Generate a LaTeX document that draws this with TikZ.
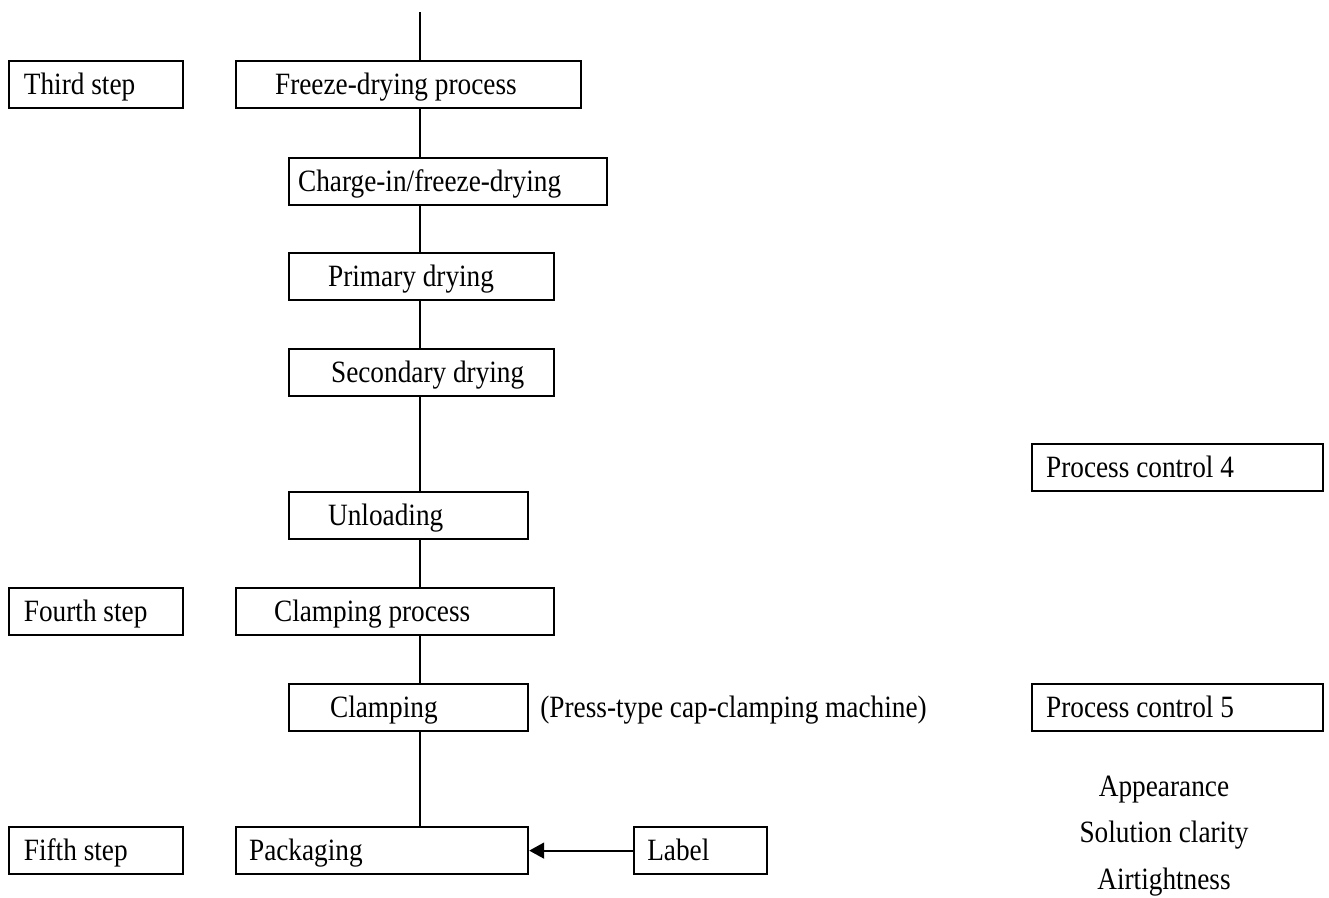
\documentclass[tikz,border=0pt]{standalone}
\usepackage{fontspec}
\setmainfont{Liberation Serif}[FakeStretch=0.88]
\usetikzlibrary{positioning, arrows.meta}

\begin{document}
\begin{tikzpicture}[x=1pt, y=-1pt,
    stage/.style={draw, rectangle, line width=2.2pt, align=left, inner ysep=0pt,
        minimum height=47pt, text height=20.5pt, text depth=0pt,
        font=\fontsize{31}{36}\selectfont,
        execute at begin node={\spaceskip=0pt\xspaceskip=0pt}},
    plain/.style={inner sep=0pt, text height=20.5pt, text depth=0pt,
        font=\fontsize{31}{36}\selectfont},
    link/.style={line width=1.6pt}]
    \useasboundingbox (0,0) rectangle (1329,897);

    % Third step
    \node[stage, anchor=north west, text width=267pt, inner xsep=39pt] (freeze) at (235,60) {Freeze-drying process};
    \node[stage, text width=144pt, inner xsep=15pt, left=51pt of freeze] (third) {Third step};
    \node[stage, anchor=north west, text width=300pt, inner xsep=9pt] (charge) at (288,157) {Charge-in/freeze-drying};
    \node[stage, anchor=north west, text width=187pt, inner xsep=39pt] (primary) at (288,252) {Primary drying};
    \node[stage, anchor=north west, text width=181pt, inner xsep=42pt] (secondary) at (288,348) {\mbox{Secondary drying}};
    \node[stage, anchor=north west, text width=161pt, inner xsep=39pt] (unload) at (288,491) {Unloading};

    % Fourth step
    \node[stage, anchor=north west, text width=242pt, inner xsep=38pt] (clampproc) at (235,587) {Clamping process};
    \node[stage, text width=144pt, inner xsep=15pt, left=51pt of clampproc] (fourth) {Fourth step};
    \node[stage, anchor=north west, text width=157pt, inner xsep=41pt] (clamp) at (288,683) {Clamping};
    \node[plain, right=11pt of clamp] (press) {(Press-type cap-clamping machine)};

    % Fifth step
    \node[stage, anchor=north west, text width=266pt, inner xsep=13pt] (pack) at (235,826) {Packaging};
    \node[stage, text width=144pt, inner xsep=15pt, left=51pt of pack] (fifth) {Fifth step};
    \node[stage, text width=107pt, inner xsep=13pt, right=104pt of pack] (label) {Label};

    % Process control
    \node[stage, anchor=north west, text width=263pt, inner xsep=14pt] (pc4) at (1031,443) {Process control 4};
    \node[stage, anchor=north west, text width=263pt, inner xsep=14pt] (pc5) at (1031,683) {Process control 5};
    \node[plain] (appear) at (1164,786) {Appearance};
    \node[plain, below=25.5pt of appear] (clarity) {Solution clarity};
    \node[plain, below=25.5pt of clarity] (airtight) {Airtightness};

    % Lines
    \coordinate (top) at (420,12);
    \draw[link] (top) -- (top |- freeze.north);
    \draw[link] (freeze.south -| top) -- (charge.north -| top);
    \draw[link] (charge.south -| top) -- (primary.north -| top);
    \draw[link] (primary.south -| top) -- (secondary.north -| top);
    \draw[link] (secondary.south -| top) -- (unload.north -| top);
    \draw[link] (unload.south -| top) -- (clampproc.north -| top);
    \draw[link] (clampproc.south -| top) -- (clamp.north -| top);
    \draw[link] (clamp.south -| top) -- (pack.north -| top);
    \draw[link, line width=1.8pt, -{Triangle[length=15pt, width=16pt]}] (label) -- (pack);
\end{tikzpicture}
\end{document}
